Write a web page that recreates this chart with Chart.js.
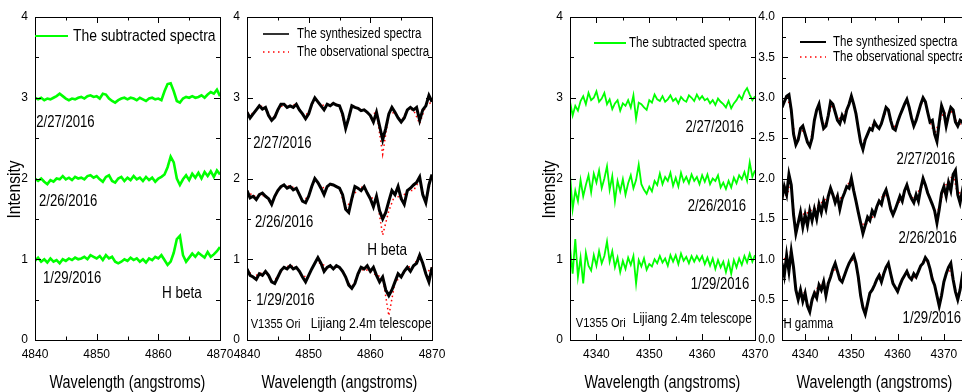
<!DOCTYPE html>
<html>
<head>
<meta charset="utf-8">
<script src="https://cdn.jsdelivr.net/npm/chart.js@4.4.0/dist/chart.umd.min.js"></script>
<style>
html, body { margin: 0; padding: 0; background: #fff; width: 962px; height: 392px; overflow: hidden; position: relative; }
canvas { position: absolute; top: 0; }
</style>
</head>
<body>
<canvas id="c1" width="255" height="392" style="left:0px"></canvas>
<canvas id="c2" width="255" height="392" style="left:212px"></canvas>
<canvas id="c3" width="255" height="392" style="left:535px"></canvas>
<canvas id="c4" width="255" height="392" style="left:747px"></canvas>
<script>
// wavelength grids (angstroms), 0.5 A sampling
const wlBeta = [4840,4840.5,4841,4841.5,4842,4842.5,4843,4843.5,4844,4844.5,4845,4845.5,4846,4846.5,4847,4847.5,4848,4848.5,4849,4849.5,
  4850,4850.5,4851,4851.5,4852,4852.5,4853,4853.5,4854,4854.5,4855,4855.5,4856,4856.5,4857,4857.5,4858,4858.5,4859,4859.5,
  4860,4860.5,4861,4861.5,4862,4862.5,4863,4863.5,4864,4864.5,4865,4865.5,4866,4866.5,4867,4867.5,4868,4868.5,4869,4869.5,4870];
const wlGamma = [4335,4335.5,4336,4336.5,4337,4337.5,4338,4338.5,4339,4339.5,4340,4340.5,4341,4341.5,4342,4342.5,4343,4343.5,4344,4344.5,
  4345,4345.5,4346,4346.5,4347,4347.5,4348,4348.5,4349,4349.5,4350,4350.5,4351,4351.5,4352,4352.5,4353,4353.5,4354,4354.5,
  4355,4355.5,4356,4356.5,4357,4357.5,4358,4358.5,4359,4359.5,4360,4360.5,4361,4361.5,4362,4362.5,4363,4363.5,4364,4364.5,
  4365,4365.5,4366,4366.5,4367,4367.5,4368,4368.5,4369,4369.5,4370,4370.5,4371,4371.5,4372,4372.5,4373,4373.5,4374,4374.5,4375];

// tick labels
const xTicksBeta = [4840, 4850, 4860, 4870];
const xTicksGamma = [4340, 4350, 4360, 4370];
const yTicksInt = [0, 1, 2, 3, 4];
const yTicksHalf = [0, 0.5, 1, 1.5, 2, 2.5, 3, 3.5, 4];
const dates = ['2/27/2016', '2/26/2016', '1/29/2016'];

// H beta, subtracted spectra (green)
const subBeta0227 = [3.00,2.98,3.00,2.97,2.99,2.98,3.00,3.02,3.05,3.02, 2.99,2.97,2.99,2.98,3.00,3.01,2.99,3.02,3.03,3.01,
  3.02,2.99,3.05,3.04,2.99,2.96,2.94,2.97,2.99,3.00, 2.98,3.00,2.99,2.97,3.00,2.98,2.96,2.99,3.00,2.98,
  2.99,2.97,3.08,3.17,3.18,3.08,2.96,2.94,2.99,3.01, 3.00,3.02,3.00,3.01,3.03,3.00,3.04,3.07,3.05,3.10, 3.02];
const subBeta0226 = [2.00,1.97,2.00,1.96,1.93,1.98,1.96,2.00,1.99,2.03, 1.99,2.01,1.98,2.02,2.00,2.01,1.99,2.03,2.04,2.01,
  2.03,1.99,1.96,2.02,2.04,1.97,1.95,2.00,2.02,1.97, 2.01,1.98,2.03,1.99,2.01,1.97,2.02,1.98,2.01,1.96,
  2.00,2.02,2.05,2.14,2.27,2.20,2.00,1.92,1.99,2.04, 1.98,2.06,2.01,2.07,2.00,2.08,2.03,2.09,2.02,2.10, 2.05];
const subBeta0129 = [0.98,1.02,0.97,1.00,0.96,1.01,0.97,0.99,0.95,1.00, 0.98,1.01,0.99,1.02,1.00,1.01,1.03,1.00,1.05,1.03,
  1.01,1.04,0.99,1.05,1.01,1.03,0.97,0.95,0.97,1.00, 0.98,1.02,0.99,1.01,0.97,1.00,0.96,1.01,0.99,1.03,
  1.01,1.05,0.99,0.93,0.97,1.08,1.25,1.29,1.05,0.97, 1.02,1.07,1.03,1.08,1.05,1.02,1.09,1.03,1.06,1.10, 1.15];

// H beta, synthesized spectra (black)
const synBeta0227 = [2.82,2.75,2.80,2.85,2.90,2.86,2.88,2.78,2.72,2.76, 2.85,2.92,2.92,2.88,2.90,2.88,2.92,2.85,2.80,2.74,
  2.80,2.92,3.00,2.95,2.90,2.85,2.92,2.90,2.93,2.91, 2.90,2.80,2.62,2.75,2.90,2.88,2.87,2.84,2.85,2.82,
  2.78,2.70,2.82,2.65,2.48,2.62,2.80,2.88,2.82,2.75, 2.70,2.75,2.85,2.88,2.85,2.88,2.72,2.85,2.90,3.03, 2.95];
const synBeta0226 = [1.85,1.76,1.78,1.74,1.80,1.82,1.78,1.75,1.68,1.78, 1.85,1.90,1.92,1.88,1.90,1.86,1.88,1.80,1.72,1.70,
  1.78,1.90,2.00,1.95,1.88,1.80,1.90,1.93,1.92,1.90, 1.88,1.80,1.62,1.58,1.75,1.90,1.88,1.85,1.90,1.82,
  1.75,1.65,1.78,1.60,1.50,1.58,1.72,1.85,1.80,1.90, 1.75,1.68,1.85,1.88,1.92,1.95,2.02,1.80,1.70,1.92, 2.05];
const synBeta0129 = [0.88,0.80,0.78,0.75,0.82,0.80,0.85,0.80,0.72,0.70, 0.78,0.86,0.90,0.88,0.92,0.88,0.90,0.85,0.78,0.72,
  0.80,0.88,0.95,1.02,0.95,0.85,0.90,0.92,0.88,0.92, 0.90,0.85,0.78,0.68,0.64,0.70,0.82,0.90,0.88,0.92,
  0.85,0.90,0.80,0.72,0.78,0.62,0.55,0.62,0.72,0.82, 0.78,0.85,0.90,0.85,0.92,0.95,1.05,0.95,0.82,0.72, 0.90];

// H beta, observational spectra (red dots), 1 A sampling
const obsBeta0227 = [2.82,2.80,2.90,2.88,2.72,2.85,2.92,2.90,2.92,2.80, 2.80,3.00,2.90,2.92,2.93,2.90,2.62,2.90,2.87,2.85,
  2.78,2.82,2.30,2.80,2.82,2.70,2.85,2.85,2.68,2.90, 2.95];
const obsBeta0226 = [1.85,1.78,1.80,1.78,1.68,1.85,1.92,1.90,1.88,1.72, 1.78,2.00,1.88,1.90,1.92,1.88,1.62,1.75,1.88,1.90,
  1.75,1.78,1.30,1.60,1.80,1.75,1.85,1.85,1.98,1.70, 2.05];
const obsBeta0129 = [0.88,0.78,0.82,0.85,0.72,0.78,0.90,0.92,0.90,0.78, 0.80,0.95,0.95,0.90,0.90,0.90,0.78,0.64,0.82,0.88,
  0.85,0.80,0.78,0.30,0.72,0.78,0.90,0.92,1.05,0.82, 0.90];

// H gamma, subtracted spectra (green), 4335-4370
const subGamma0227 = [2.95,2.78,2.90,2.84,2.96,3.02,2.92,3.06,2.97,3.00, 3.08,2.95,2.99,3.06,2.92,2.98,2.86,2.93,2.97,2.84,
  2.93,2.90,2.97,2.88,3.03,2.74,2.94,2.92,2.88,2.85, 2.97,2.94,3.04,2.98,2.96,3.02,2.95,2.98,3.03,2.96,
  2.99,2.93,3.01,2.97,2.95,3.03,3.00,2.96,3.04,2.98, 3.02,2.97,2.99,2.93,2.97,2.91,2.99,2.95,2.92,2.88,
  2.96,2.87,2.93,2.97,3.03,2.98,3.07,3.12,3.04,2.97, 3.02];
const subGamma0226 = [2.05,1.62,1.85,1.72,1.98,1.78,1.92,2.04,1.83,2.06, 1.95,2.10,1.88,2.00,2.15,1.86,2.03,1.72,1.97,1.84,
  1.99,1.80,1.94,2.04,1.88,1.98,2.17,1.93,1.86,1.81, 1.90,1.84,1.97,1.92,2.06,1.93,2.02,1.97,2.07,1.91,
  2.01,1.90,2.07,1.96,2.02,1.94,2.05,1.97,2.02,1.93, 2.04,1.96,2.05,1.93,2.00,1.97,2.04,1.89,1.95,1.87,
  1.97,1.89,2.01,1.94,2.04,1.99,2.08,1.97,2.20,2.02, 2.10];
const subGamma0129 = [1.15,0.82,1.25,0.78,1.02,0.70,1.08,0.92,0.86,1.05, 0.92,1.10,0.95,1.04,1.22,0.97,1.10,0.90,1.02,0.84,
  0.98,0.88,1.02,0.93,1.04,0.70,0.99,0.91,1.01,0.87, 0.94,0.91,1.00,0.95,1.04,0.96,1.01,0.92,1.05,0.97,
  1.05,0.94,1.07,0.98,1.03,0.95,1.04,0.97,1.04,0.98, 1.04,0.94,1.02,0.92,1.01,0.88,0.99,0.90,0.97,0.84,
  0.97,0.82,0.99,0.90,1.01,0.93,1.04,0.96,1.07,0.97, 1.05];

// H gamma, synthesized spectra (black), 4335-4375
const synGamma0227 = [2.88,2.95,3.02,3.04,2.85,2.55,2.42,2.48,2.62,2.65, 2.55,2.45,2.40,2.50,2.72,2.85,2.92,2.75,2.62,2.65,
  2.78,2.95,2.92,2.82,2.72,2.68,2.78,2.72,2.85,2.92, 3.02,2.92,2.80,2.62,2.45,2.36,2.48,2.55,2.62,2.60,
  2.70,2.65,2.62,2.68,2.78,2.88,2.85,2.72,2.62,2.60, 2.70,2.78,2.85,2.92,2.98,2.88,2.75,2.65,2.72,2.82,
  2.92,3.00,2.95,2.82,2.70,2.72,2.55,2.46,2.70,2.90, 2.82,2.65,2.78,2.88,2.85,2.70,2.65,2.72,2.70,2.62, 2.68];
const synGamma0226 = [1.75,1.90,1.80,2.05,1.92,1.55,1.32,1.45,1.58,1.40, 1.55,1.42,1.60,1.48,1.62,1.50,1.68,1.58,1.72,1.62,
  1.78,1.88,1.80,1.70,1.78,1.62,1.75,1.82,1.90,1.88, 2.00,1.85,1.72,1.58,1.45,1.32,1.42,1.52,1.48,1.60,
  1.55,1.65,1.72,1.68,1.80,1.86,1.75,1.62,1.55,1.62, 1.70,1.78,1.72,1.85,1.92,1.82,1.75,1.70,1.80,1.72,
  1.88,2.00,1.92,1.82,1.75,1.68,1.60,1.45,1.62,1.82, 1.90,1.78,1.95,1.85,2.05,2.10,1.80,1.70,1.85,1.78, 1.82];
const synGamma0129 = [0.95,0.80,1.05,0.85,1.10,0.90,0.62,0.50,0.62,0.48, 0.58,0.42,0.35,0.50,0.58,0.52,0.68,0.62,0.72,0.55,
  0.70,0.78,0.88,0.95,0.85,0.75,0.72,0.80,0.88,0.95, 1.00,1.05,0.95,0.78,0.55,0.40,0.32,0.45,0.58,0.62,
  0.68,0.75,0.80,0.72,0.82,0.90,0.95,0.82,0.70,0.65, 0.60,0.68,0.75,0.80,0.85,0.78,0.75,0.82,0.78,0.85,
  0.92,0.95,1.02,0.98,0.88,0.75,0.68,0.55,0.42,0.55, 0.72,0.82,0.90,0.95,0.75,0.60,0.50,0.62,0.80,0.75, 0.70];

// H gamma, observational spectra (red dots), 1 A sampling
const obsGamma0227 = [2.88,3.02,2.85,2.42,2.62,2.55,2.40,2.72,2.92,2.62, 2.78,2.92,2.72,2.78,2.85,3.02,2.80,2.45,2.48,2.62,
  2.70,2.62,2.78,2.85,2.62,2.70,2.85,2.98,2.75,2.72, 2.92,2.95,2.70,2.55,2.70,2.82,2.78,2.85,2.65,2.70, 2.68];
const obsGamma0226 = [1.75,1.80,1.92,1.32,1.58,1.55,1.60,1.62,1.68,1.72, 1.78,1.80,1.78,1.75,1.90,2.00,1.72,1.45,1.42,1.48,
  1.55,1.72,1.80,1.75,1.55,1.70,1.72,1.92,1.75,1.80, 1.88,1.92,1.75,1.60,1.62,1.90,1.95,2.05,1.80,1.85, 1.82];
const obsGamma0129 = [0.95,1.05,1.10,0.62,0.62,0.58,0.35,0.58,0.68,0.72, 0.70,0.88,0.85,0.72,0.88,1.00,0.95,0.55,0.32,0.58,
  0.68,0.80,0.82,0.95,0.70,0.60,0.75,0.85,0.75,0.78, 0.92,1.02,0.88,0.68,0.42,0.72,0.90,0.75,0.50,0.80, 0.70];

const FONT = "'Liberation Sans', Arial, sans-serif";
const NARROW = 0.82;   // the source figure uses a condensed face
const GREEN = '#00ff00';

const pts = (wl, ys, k = 1) => ys.map((v, i) => ({ x: wl[i * k], y: v }));

function green(wl, ys, w) {
  return { data: pts(wl, ys), borderColor: GREEN, borderWidth: w, order: 0 };
}
function black(wl, ys) {
  return { data: pts(wl, ys), borderColor: '#000', borderWidth: 3, order: 0 };
}
function red(wl, ys) {
  return { data: pts(wl, ys, 2), borderColor: '#ff0000', borderWidth: 1.5, borderDash: [1.5, 3], order: 1 };
}

function label(ctx, str, x, y, size, align) {
  ctx.save();
  ctx.font = size + 'px ' + FONT;
  ctx.textAlign = align || 'left';
  ctx.textBaseline = 'middle';
  ctx.translate(x, y);
  ctx.scale(NARROW, 1);
  ctx.fillText(str, 0, 0);
  ctx.restore();
}

// frame, inward ticks, legend, titles and notes
function decor(cfg) {
  return {
    id: 'decor',
    afterDraw(chart) {
      const { ctx, chartArea: a, scales: { x, y } } = chart;
      ctx.save();
      ctx.strokeStyle = '#000';
      ctx.lineWidth = 1;
      ctx.strokeRect(Math.round(a.left) + 0.5, Math.round(a.top) + 0.5, Math.round(a.right - a.left), Math.round(a.bottom - a.top));
      ctx.beginPath();
      for (let v = Math.ceil(x.min / cfg.xMinor) * cfg.xMinor; v <= x.max + 1e-6; v += cfg.xMinor) {
        const px = Math.round(x.getPixelForValue(v)) + 0.5;
        const len = Math.abs(v % cfg.xMajor) < 1e-6 ? 6 : 3.5;
        ctx.moveTo(px, a.bottom); ctx.lineTo(px, a.bottom - len);
        ctx.moveTo(px, a.top); ctx.lineTo(px, a.top + len);
      }
      for (let v = 0; v <= y.max + 1e-6; v += cfg.yMinor) {
        const py = Math.round(y.getPixelForValue(v)) + 0.5;
        const len = Math.abs(v / cfg.yMajor - Math.round(v / cfg.yMajor)) < 1e-6 ? 6 : 4;
        ctx.moveTo(a.left, py); ctx.lineTo(a.left + len, py);
        ctx.moveTo(a.right, py); ctx.lineTo(a.right - len, py);
      }
      ctx.stroke();

      ctx.fillStyle = '#000';
      cfg.legend.forEach(l => {
        ctx.beginPath();
        ctx.strokeStyle = l.color;
        ctx.lineWidth = l.dash ? 1.5 : 2;
        ctx.setLineDash(l.dash || []);
        ctx.moveTo(a.left + l.x0, a.top + l.y);
        ctx.lineTo(a.left + l.x1, a.top + l.y);
        ctx.stroke();
        ctx.setLineDash([]);
        label(ctx, l.text, a.left + l.tx, a.top + l.y, l.size);
      });
      cfg.notes.forEach(n => label(ctx, n.text, x.getPixelForValue(n.x), y.getPixelForValue(n.y), n.size, n.align));

      label(ctx, 'Wavelength (angstroms)', (a.left + a.right) / 2, 383, 17.5, 'center');
      if (cfg.yTitle) {
        ctx.save();
        ctx.translate(a.left - 20, (a.top + a.bottom) / 2 + 11);
        ctx.rotate(-Math.PI / 2);
        label(ctx, cfg.yTitle, 0, 0, 19, 'center');
        ctx.restore();
      }
      ctx.restore();
    }
  };
}

function makeChart(id, cfg) {
  const tickFont = { family: FONT, size: 12 };
  return new Chart(document.getElementById(id), {
    type: 'line',
    data: { datasets: cfg.datasets },
    options: {
      responsive: false,
      animation: false,
      layout: { padding: { left: 0, right: 35, top: 17, bottom: 0 } },
      plugins: { legend: { display: false }, tooltip: { enabled: false } },
      elements: { point: { radius: 0 }, line: { tension: 0 } },
      scales: {
        x: {
          type: 'linear', min: cfg.xMin, max: cfg.xMax,
          grid: { display: false, drawTicks: false }, border: { display: false },
          afterFit: s => { s.height = 52; },
          afterBuildTicks: s => { s.ticks = cfg.xTicks.map(v => ({ value: v })); },
          ticks: { autoSkip: false, maxRotation: 0, padding: 7, color: '#000', font: tickFont, callback: v => String(v) }
        },
        y: {
          type: 'linear', min: 0, max: 4,
          grid: { display: false, drawTicks: false }, border: { display: false },
          afterFit: s => { s.width = 35; },
          afterBuildTicks: s => { s.ticks = cfg.yTicks.map(v => ({ value: v })); },
          ticks: { autoSkip: false, padding: 7, color: '#000', font: tickFont, callback: cfg.yFormat }
        }
      }
    },
    plugins: [decor(cfg)]
  });
}

makeChart('c1', {
  xMin: 4840, xMax: 4870, xTicks: xTicksBeta, xMajor: 10, xMinor: 5,
  yTicks: yTicksInt, yMajor: 1, yMinor: 0.5, yFormat: v => String(v), yTitle: 'Intensity',
  datasets: [green(wlBeta, subBeta0227, 2.6), green(wlBeta, subBeta0226, 2.6), green(wlBeta, subBeta0129, 2.6)],
  legend: [{ text: 'The subtracted spectra', color: GREEN, x0: 0, x1: 33, tx: 38, y: 19, size: 17 }],
  notes: [
    { text: dates[0], x: 4840.2, y: 2.69, size: 16 },
    { text: dates[1], x: 4840.65, y: 1.71, size: 16 },
    { text: dates[2], x: 4841.3, y: 0.755, size: 16 },
    { text: 'H beta', x: 4860.6, y: 0.58, size: 16.5 }
  ]
});

makeChart('c2', {
  xMin: 4840, xMax: 4870, xTicks: xTicksBeta, xMajor: 10, xMinor: 5,
  yTicks: yTicksInt, yMajor: 1, yMinor: 0.5, yFormat: v => String(v),
  datasets: [black(wlBeta, synBeta0227), black(wlBeta, synBeta0226), black(wlBeta, synBeta0129),
             red(wlBeta, obsBeta0227), red(wlBeta, obsBeta0226), red(wlBeta, obsBeta0129)],
  legend: [
    { text: 'The synthesized spectra', color: '#333', x0: 16, x1: 42, tx: 50, y: 17, size: 14 },
    { text: 'The observational spectra', color: '#ff0000', dash: [1.5, 3.5], x0: 16, x1: 42, tx: 50, y: 35, size: 14 }
  ],
  notes: [
    { text: dates[0], x: 4841.0, y: 2.43, size: 16 },
    { text: dates[1], x: 4841.3, y: 1.45, size: 16 },
    { text: 'H beta', x: 4859.5, y: 1.115, size: 16.5 },
    { text: dates[2], x: 4841.5, y: 0.483, size: 16 },
    { text: 'V1355 Ori', x: 4840.6, y: 0.2, size: 13.5 },
    { text: 'Lijiang 2.4m telescope', x: 4869.9, y: 0.2, size: 14.8, align: 'right' }
  ]
});

makeChart('c3', {
  xMin: 4335, xMax: 4370, xTicks: xTicksGamma, xMajor: 10, xMinor: 5,
  yTicks: yTicksInt, yMajor: 1, yMinor: 0.5, yFormat: v => String(v), yTitle: 'Intensity',
  datasets: [green(wlGamma, subGamma0227, 1.8), green(wlGamma, subGamma0226, 1.8), green(wlGamma, subGamma0129, 1.8)],
  legend: [{ text: 'The subtracted spectra', color: GREEN, x0: 24, x1: 56, tx: 59, y: 26, size: 14 }],
  notes: [
    { text: dates[0], x: 4367.9, y: 2.625, size: 16, align: 'right' },
    { text: dates[1], x: 4368.3, y: 1.647, size: 16, align: 'right' },
    { text: dates[2], x: 4368.9, y: 0.681, size: 16, align: 'right' },
    { text: 'V1355 Ori', x: 4336.1, y: 0.21, size: 13.5 },
    { text: 'Lijiang 2.4m telescope', x: 4369.4, y: 0.26, size: 14.6, align: 'right' }
  ]
});

makeChart('c4', {
  xMin: 4335, xMax: 4375, xTicks: xTicksGamma, xMajor: 10, xMinor: 5,
  yTicks: yTicksHalf, yMajor: 0.5, yMinor: 0.25, yFormat: v => v.toFixed(1),
  datasets: [black(wlGamma, synGamma0227), black(wlGamma, synGamma0226), black(wlGamma, synGamma0129),
             red(wlGamma, obsGamma0227), red(wlGamma, obsGamma0226), red(wlGamma, obsGamma0129)],
  legend: [
    { text: 'The synthesized spectra', color: '#000', x0: 18, x1: 44, tx: 51, y: 25, size: 14 },
    { text: 'The observational spectra', color: '#ff0000', dash: [1.5, 3.5], x0: 18, x1: 44, tx: 51, y: 40, size: 14 }
  ],
  notes: [
    { text: dates[0], x: 4372.4, y: 2.23, size: 16, align: 'right' },
    { text: dates[1], x: 4372.8, y: 1.25, size: 16, align: 'right' },
    { text: dates[2], x: 4373.7, y: 0.27, size: 16, align: 'right' },
    { text: 'H gamma', x: 4335.3, y: 0.2, size: 14 }
  ]
});
</script>
</body>
</html>
